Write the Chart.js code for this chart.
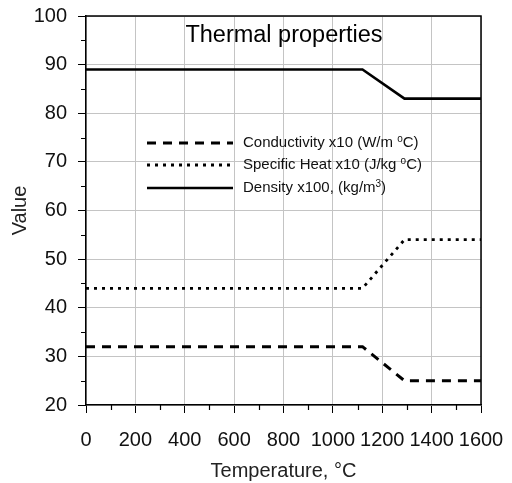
<!DOCTYPE html>
<html>
<head>
<meta charset="utf-8">
<script src="https://cdn.jsdelivr.net/npm/chart.js@4/dist/chart.umd.min.js"></script>
<style>
html,body{margin:0;padding:0;background:#fff;}
canvas{display:block;}
</style>
</head>
<body>
<canvas id="c" width="512" height="483"></canvas>
<script>
// Data
const temperatures = [0, 1120, 1290, 1600];
const conductivity = [32, 32, 25, 25];      // x10 (W/m oC)
const specificHeat = [44, 44, 54, 54];      // x10 (J/kg oC)
const density = [89, 89, 83, 83];           // x100 (kg/m3)
const seriesLabels = ['Conductivity x10 (W/m ', 'Specific Heat x10 (J/kg ', 'Density x100, (kg/m'];
const seriesSup = ['o', 'o', '3'];
const seriesTail = ['C)', 'C)', ')'];
const chartTitle = 'Thermal properties';
const xTitle = 'Temperature, °C';
const yTitle = 'Value';

const FONT = '"Liberation Sans", Arial, sans-serif';
const pts = arr => temperatures.map((t, i) => ({x: t, y: arr[i]}));

const dashes = [[9, 7], [3, 5], []];
const widths = [3, 2.8, 2.6];

const decor = {
  id: 'decor',
  afterDraw(chart) {
    const ctx = chart.ctx, a = chart.chartArea;
    const xs = chart.scales.x, ys = chart.scales.y;
    ctx.save();
    // top and right frame
    ctx.strokeStyle = '#000';
    ctx.lineWidth = 1.5;
    ctx.beginPath();
    ctx.moveTo(a.left, a.top); ctx.lineTo(a.right, a.top); ctx.lineTo(a.right, a.bottom);
    ctx.stroke();
    // minor ticks
    ctx.lineWidth = 1.2;
    ctx.beginPath();
    for (let v = 100; v < 1600; v += 200) {
      const px = Math.round(xs.getPixelForValue(v)) + 0.5;
      ctx.moveTo(px, a.bottom); ctx.lineTo(px, a.bottom + 5);
    }
    for (let v = 25; v < 100; v += 10) {
      const py = Math.round(ys.getPixelForValue(v)) + 0.5;
      ctx.moveTo(a.left, py); ctx.lineTo(a.left - 5, py);
    }
    ctx.stroke();
    // title
    ctx.fillStyle = '#000';
    ctx.font = '23.5px ' + FONT;
    ctx.textAlign = 'center';
    ctx.textBaseline = 'middle';
    ctx.fillText(chartTitle, 284, 36);
    // legend
    const rows = [143, 165, 188];
    ctx.textAlign = 'left';
    rows.forEach((ry, i) => {
      ctx.strokeStyle = '#000';
      ctx.lineWidth = widths[i];
      ctx.setLineDash(dashes[i]);
      ctx.beginPath();
      ctx.moveTo(147, ry); ctx.lineTo(233, ry);
      ctx.stroke();
      ctx.setLineDash([]);
      ctx.fillStyle = '#111';
      ctx.font = '15px ' + FONT;
      let x = 243;
      ctx.fillText(seriesLabels[i], x, ry);
      x += ctx.measureText(seriesLabels[i]).width;
      ctx.font = '10px ' + FONT;
      ctx.fillText(seriesSup[i], x, ry - 4);
      x += ctx.measureText(seriesSup[i]).width;
      ctx.font = '15px ' + FONT;
      ctx.fillText(seriesTail[i], x, ry);
    });
    ctx.restore();
  }
};

new Chart(document.getElementById('c'), {
  type: 'line',
  data: {
    datasets: [
      {label: 'Conductivity', data: pts(conductivity), borderColor: '#000', borderWidth: widths[0], borderDash: dashes[0], pointRadius: 0, fill: false, tension: 0},
      {label: 'Specific Heat', data: pts(specificHeat), borderColor: '#000', borderWidth: widths[1], borderDash: dashes[1], pointRadius: 0, fill: false, tension: 0},
      {label: 'Density', data: pts(density), borderColor: '#000', borderWidth: widths[2], borderDash: dashes[2], pointRadius: 0, fill: false, tension: 0}
    ]
  },
  options: {
    responsive: false,
    devicePixelRatio: 1,
    animation: false,
    layout: {padding: {top: 16, right: 31, left: 0, bottom: 0}},
    plugins: {legend: {display: false}, tooltip: {enabled: false}},
    scales: {
      x: {
        type: 'linear', min: 0, max: 1600,
        ticks: {stepSize: 200, color: '#111', font: {size: 20, family: FONT}, padding: 15, maxRotation: 0, autoSkip: false,
                callback: v => String(v)},
        grid: {color: '#c4c4c4', tickColor: '#000', tickLength: 8, lineWidth: 1},
        border: {color: '#000', width: 1.5},
        title: {display: true, text: xTitle, color: '#222', font: {size: 20, family: FONT}, padding: {top: 4, bottom: 0}},
        afterFit(s) { s.height = 78; s.paddingLeft = 0; s.paddingRight = 0; }
      },
      y: {
        type: 'linear', min: 20, max: 100,
        ticks: {stepSize: 10, color: '#111', font: {size: 20, family: FONT}, padding: 11, callback: v => String(v)},
        grid: {color: '#c4c4c4', tickColor: '#000', tickLength: 8, lineWidth: 1},
        border: {color: '#000', width: 1.5},
        title: {display: true, text: yTitle, color: '#222', font: {size: 20, family: FONT}, padding: {top: 8, bottom: 0}},
        afterFit(s) { s.width = 86; s.paddingTop = 0; s.paddingBottom = 0; }
      }
    }
  },
  plugins: [decor]
});
</script>
</body>
</html>
